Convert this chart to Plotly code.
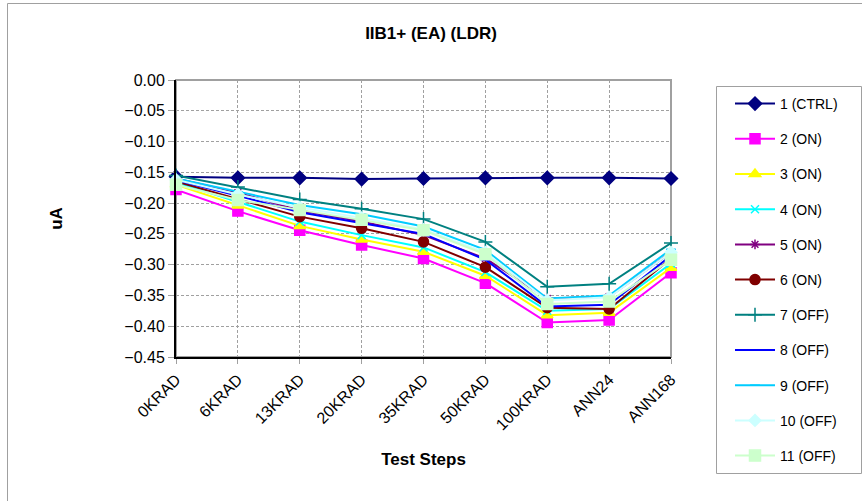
import plotly.graph_objects as go

steps = ["0KRAD", "6KRAD", "13KRAD", "20KRAD", "35KRAD", "50KRAD", "100KRAD", "ANN24", "ANN168"]

names = ["1 (CTRL)", "2 (ON)", "3 (ON)", "4 (ON)", "5 (ON)", "6 (ON)",
         "7 (OFF)", "8 (OFF)", "9 (OFF)", "10 (OFF)", "11 (OFF)"]

s1 = [-0.157, -0.159, -0.159, -0.161, -0.160, -0.159, -0.159, -0.159, -0.160]
s2 = [-0.178, -0.213, -0.244, -0.268, -0.290, -0.330, -0.394, -0.390, -0.313]
s3 = [-0.170, -0.204, -0.237, -0.259, -0.279, -0.318, -0.382, -0.378, -0.305]
s4 = [-0.166, -0.198, -0.230, -0.252, -0.272, -0.312, -0.375, -0.372, -0.298]
s5 = [-0.160, -0.183, -0.212, -0.230, -0.252, -0.290, -0.355, -0.352, -0.280]
s6 = [-0.165, -0.193, -0.222, -0.241, -0.263, -0.304, -0.370, -0.372, -0.290]
s7 = [-0.155, -0.174, -0.194, -0.209, -0.226, -0.263, -0.336, -0.331, -0.265]
s8 = [-0.163, -0.188, -0.215, -0.232, -0.250, -0.292, -0.368, -0.365, -0.285]
s9 = [-0.160, -0.182, -0.203, -0.218, -0.238, -0.276, -0.355, -0.350, -0.275]
s10 = [-0.162, -0.186, -0.207, -0.224, -0.243, -0.280, -0.358, -0.353, -0.280]
s11 = [-0.170, -0.195, -0.211, -0.227, -0.244, -0.283, -0.364, -0.360, -0.292]

series = [s1, s2, s3, s4, s5, s6, s7, s8, s9, s10, s11]
colors = ["#000080", "#FF00FF", "#FFFF00", "#00FFFF", "#800080", "#800000",
          "#008080", "#0000FF", "#00CCFF", "#CCFFFF", "#CCFFCC"]
symbols = ["diamond", "square", "triangle-up", "x-thin-open", "asterisk-open", "circle",
           "cross-thin-open", "line-ew-open", "line-ew-open", "diamond", "square"]
sizes = [10, 10, 10, 8, 8, 10, 10, 7, 7, 9, 11]

fig = go.Figure()
for i, (nm, ys) in enumerate(zip(names, series)):
    fig.add_trace(go.Scatter(
        x=steps, y=ys, name=nm, mode="lines+markers",
        legendgroup="g%d" % i, cliponaxis=False,
        line=dict(color=colors[i], width=2),
        marker=dict(symbol=symbols[i], size=sizes[i], color=colors[i],
                    line=dict(color=colors[i], width=1.5)),
    ))

W0, H0 = 862, 501
L, R, T, B = 176, 671, 80, 357
pw, ph = R - L, B - T

def px(x):
    return (x - L) / pw

def py(y):
    return (B - y) / ph

fig.update_layout(
    width=W0, height=H0,
    margin=dict(l=L, r=W0 - R, t=T, b=H0 - B),
    paper_bgcolor="white", plot_bgcolor="white",
    font=dict(family="Liberation Sans, Arial, sans-serif", size=14, color="black"),
    title=dict(text="<b>IIB1+ (EA) (LDR)</b>", x=0.5, xanchor="center",
               y=1 - 33 / H0, yanchor="middle", font=dict(size=17)),
    showlegend=True,
    legend=dict(x=px(730), y=py(88), xanchor="left", yanchor="top",
                bgcolor="rgba(0,0,0,0)", borderwidth=0,
                font=dict(size=14), tracegroupgap=14, itemwidth=40,
                maxheight=420),
    xaxis=dict(
        type="category", range=[0, 8],
        showgrid=True, gridcolor="#A0A0A0", griddash="3px,2px", gridwidth=1,
        showline=True, linecolor="black", linewidth=2,
        ticks="outside", ticklen=5, tickcolor="#A0A0A0",
        tickangle=-45, tickfont=dict(size=16),
        title=dict(text="<b>Test Steps</b>", font=dict(size=17), standoff=21),
        zeroline=False,
    ),
    yaxis=dict(
        range=[-0.45, 0], dtick=0.05, tick0=0, tickformat=".2f",
        showgrid=True, gridcolor="#A0A0A0", griddash="3px,2px", gridwidth=1,
        showline=True, linecolor="black", linewidth=2,
        ticks="outside", ticklen=6, tickcolor="#A0A0A0",
        tickfont=dict(size=16),
        title=dict(text="<b>uA</b>", font=dict(size=17), standoff=57),
        zeroline=False,
    ),
    shapes=[
        dict(type="rect", xref="paper", yref="paper", x0=0, x1=1, y0=0, y1=1,
             line=dict(color="#A0A0A0", width=2), layer="below"),
        dict(type="rect", xref="paper", yref="paper",
             x0=px(7.5), x1=px(880), y0=py(520), y1=py(3.5),
             line=dict(color="#A0A0A0", width=1), layer="below"),
        dict(type="rect", xref="paper", yref="paper",
             x0=px(716.5), x1=px(861.5), y0=py(473.5), y1=py(86.5),
             line=dict(color="#A0A0A0", width=1), layer="below"),
    ],
)

fig.write_html("out.html", config={"displayModeBar": False},
               post_script="document.body.style.margin='0px';document.body.style.overflow='hidden';")
